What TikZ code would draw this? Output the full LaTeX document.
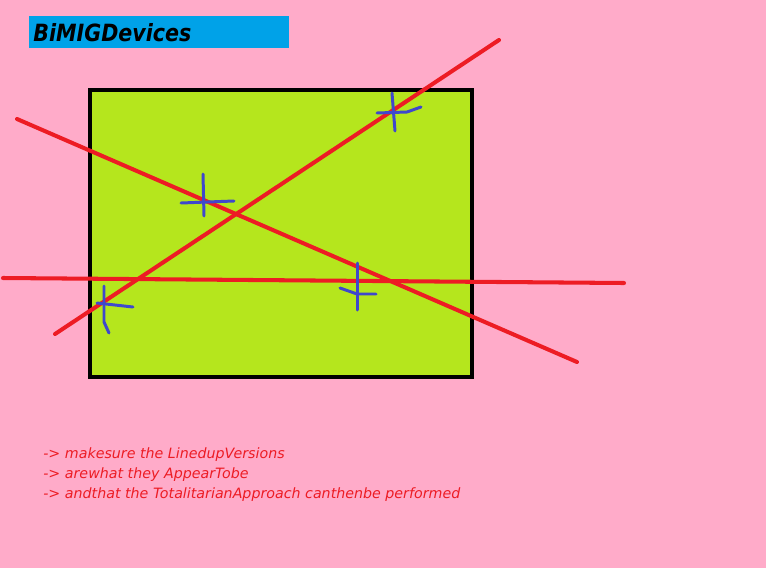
\documentclass[tikz,border=0pt]{standalone}
\usepackage{graphicx}
\usepackage{fontspec}
\setmainfont{DejaVu Sans}
\usetikzlibrary{positioning}
\definecolor{cPink}{HTML}{FFABC9}
\definecolor{cLime}{HTML}{B5E61D}
\definecolor{cSky}{HTML}{00A2E8}
\definecolor{cRed}{HTML}{ED1C24}
\definecolor{cBlue}{HTML}{3F48CC}

\begin{document}
\begin{tikzpicture}[
   x=0.02cm, y=-0.02cm,
   panel/.style={draw=black, fill=cLime, line width=2.3pt},
   titlebar/.style={fill=cSky, inner sep=0pt, minimum width=5.2cm, minimum height=0.64cm},
   redline/.style={cRed, line width=2.3pt, line cap=round},
   bluemark/.style={cBlue, line width=1.7pt, line cap=round},
   note/.style={anchor=base west, inner sep=0pt, text=cRed, font=\fontsize{8.1}{9}\selectfont\itshape}]
  \fill[cPink] (0,0) rectangle (766,568);
  \useasboundingbox (0,0) rectangle (766,568);
  \node[titlebar] (title) at (159,32) {};
  \node[anchor=base west, inner sep=0pt, font=\fontsize{13.5}{15}\selectfont\bfseries\itshape] (titletext) at (33,41) {\scalebox{0.87}[1]{BiMIGDevices}};
  \draw[panel] (90,90) rectangle (472,377);
  % the three red strokes
  \draw[redline] (499,40) -- (55,334);
  \draw[redline] (17,119) -- (577,362);
  \draw[redline] (3,278) -- (624,283);
  % blue marks at the crossings
  \draw[bluemark] (203,174) -- (204,216);  \draw[bluemark] (181,203) -- (234,201);
  \draw[bluemark] (104,286) -- (104,322) -- (109,333);  \draw[bluemark] (97,303) -- (133,307);
  \draw[bluemark] (357,263) -- (357,310);  \draw[bluemark] (340,288) -- (357,294) -- (376,294);
  \draw[bluemark] (392,93) -- (395,131);  \draw[bluemark] (377,113) -- (407,112) -- (421,107);
  \node[note] (n1) at (43,458) {-> makesure the LinedupVersions};
  \node[note] (n2) at (43,478) {-> arewhat they AppearTobe};
  \node[note] (n3) at (43,498) {-> andthat the TotalitarianApproach canthenbe performed};
\end{tikzpicture}
\end{document}
